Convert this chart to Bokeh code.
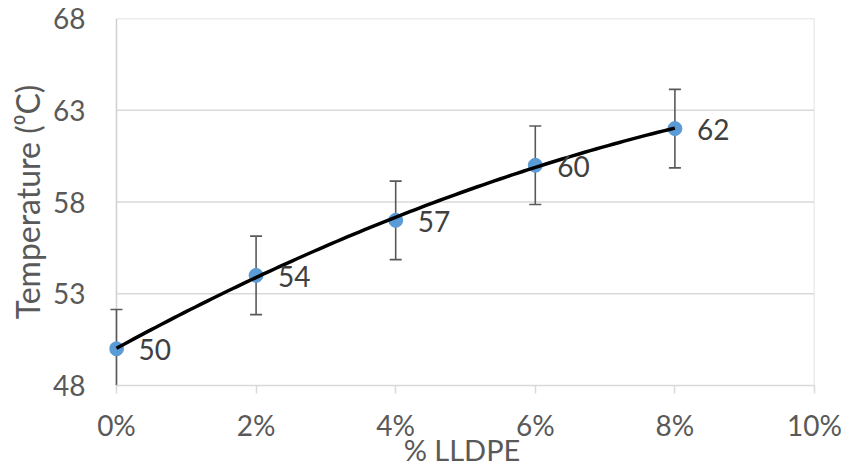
import numpy as np
from bokeh.plotting import figure
from bokeh.models import ColumnDataSource, FixedTicker, Range1d, Span
from bokeh.core.properties import value
from bokeh.embed import file_html
from bokeh.resources import INLINE

# data
lldpe_pct = [0, 2, 4, 6, 8]
temperature = [50, 54, 57, 60, 62]
std_error = [2.14, 2.14, 2.14, 2.14, 2.14]
x_ticks = [0, 2, 4, 6, 8, 10]
x_tick_labels = ["0%", "2%", "4%", "6%", "8%", "10%"]
y_ticks = [48, 53, 58, 63, 68]

FONT = "Lato"
X_MIN, X_MAX = 0, 10
Y_MIN, Y_MAX = 48, 68

p = figure(width=846, height=470, output_backend="svg", toolbar_location=None,
           x_range=Range1d(X_MIN - 0.1, X_MAX), y_range=Range1d(Y_MIN, Y_MAX),
           min_border_left=109, min_border_right=32, min_border_top=18, min_border_bottom=85)
p.background_fill_color = "white"
p.border_fill_color = "white"
p.outline_line_color = None

# grid (horizontal lines starting at the vertical axis) and plot-area borders
p.xgrid.grid_line_color = None
p.ygrid.grid_line_color = None
grid_y = [t for t in y_ticks if t != Y_MIN]
p.segment(x0=[X_MIN] * len(grid_y), y0=grid_y, x1=[X_MAX] * len(grid_y), y1=grid_y,
          line_color="#d9d9d9", line_width=1.5, level="underlay")
p.add_layout(Span(location=X_MAX, dimension="height", line_color="#d9d9d9", line_width=1.5,
                  level="underlay"))
p.add_layout(Span(location=X_MIN, dimension="height", line_color="#d0d0d0", line_width=1.5,
                  level="underlay"))

# x axis
p.xaxis.ticker = FixedTicker(ticks=x_ticks)
p.xaxis.bounds = (X_MIN, X_MAX)
p.xaxis.major_label_overrides = {t: l for t, l in zip(x_ticks, x_tick_labels)}
p.xaxis.axis_line_color = "#d9d9d9"
p.xaxis.axis_line_width = 1.5
p.xaxis.major_tick_line_color = "#d9d9d9"
p.xaxis.major_tick_line_width = 1.5
p.xaxis.major_tick_out = 8
p.xaxis.major_tick_in = 0
p.xaxis.minor_tick_line_color = None
p.xaxis.major_label_text_font = FONT
p.xaxis.major_label_text_font_size = "28px"
p.xaxis.major_label_text_color = "#595959"
p.xaxis.major_label_standoff = 14
p.xaxis.axis_label = "% LLDPE"
p.xaxis.axis_label_text_font = FONT
p.xaxis.axis_label_text_font_size = "29px"
p.xaxis.axis_label_text_font_style = "normal"
p.xaxis.axis_label_text_color = "#595959"
p.xaxis.axis_label_standoff = -13

# y axis (its line is drawn by the span at x = 0)
p.yaxis.ticker = FixedTicker(ticks=y_ticks)
p.yaxis.axis_line_color = None
p.yaxis.major_tick_line_color = None
p.yaxis.minor_tick_line_color = None
p.yaxis.major_tick_out = 0
p.yaxis.major_tick_in = 0
p.yaxis.major_label_text_font = FONT
p.yaxis.major_label_text_font_size = "28px"
p.yaxis.major_label_text_color = "#595959"
p.yaxis.major_label_standoff = 24
p.yaxis.axis_label = "Temperature (\u2070C)"
p.yaxis.axis_label_text_font = FONT
p.yaxis.axis_label_text_font_size = "32px"
p.yaxis.axis_label_text_font_style = "normal"
p.yaxis.axis_label_text_color = "#595959"
p.yaxis.axis_label_standoff = 3

# error bars
lower = [t - e for t, e in zip(temperature, std_error)]
upper = [t + e for t, e in zip(temperature, std_error)]
src = ColumnDataSource(dict(x=lldpe_pct, y=temperature, lo=lower, hi=upper,
                            lbl=[str(t) for t in temperature]))
p.segment(x0="x", y0="lo", x1="x", y1="hi", source=src, line_color="#595959", line_width=1.6)
p.scatter(x="x", y="lo", source=src, marker="dash", size=12, line_color="#595959", line_width=1.6)
p.scatter(x="x", y="hi", source=src, marker="dash", size=12, line_color="#595959", line_width=1.6)

# points
p.scatter(x="x", y="y", source=src, size=14, fill_color="#5b9bd5", line_color="#5b9bd5")

# polynomial (order 2) trendline fitted to the data
coef = np.polyfit(lldpe_pct, temperature, 2)
xs = np.linspace(min(lldpe_pct), max(lldpe_pct), 100)
p.line(xs, np.polyval(coef, xs), line_color="black", line_width=3.5)

# data labels
p.text(x="x", y="y", text="lbl", source=src, x_offset=22, y_offset=1,
       text_align="left", text_baseline="middle", text_font=value(FONT),
       text_font_size="28px", text_color="#404040")

open("out.html", "w").write(file_html(p, INLINE))
